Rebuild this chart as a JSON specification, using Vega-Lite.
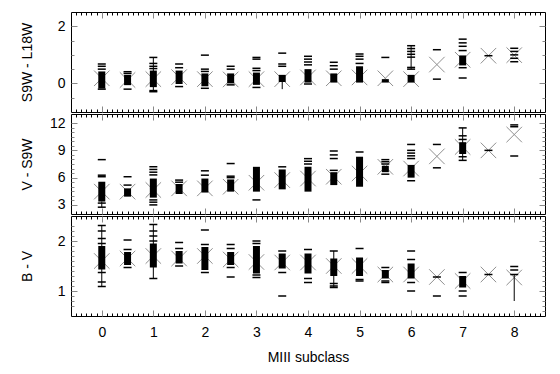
{
  "$schema": "https://vega.github.io/schema/vega-lite/v6.json",
  "padding": {"left": 19, "top": 11, "right": 12, "bottom": 4},
  "spacing": 0,
  "config": {
    "font": "Liberation Sans",
    "view": {"stroke": "black", "strokeWidth": 1},
    "axis": {"labelFont": "Liberation Sans", "labelFontSize": 14, "labelColor": "black", "titleFont": "Liberation Sans", "titleFontSize": 14, "titleFontWeight": "normal", "titleColor": "black", "domain": false, "grid": false, "labelOverlap": false, "labelFlush": false, "tickWidth": 1}
  },
  "datasets": {
    "stars": [
      {"p":"a","s":0,"v":0.68},{"p":"a","s":0,"v":0.6},{"p":"a","s":0,"v":0.5},{"p":"a","s":0,"v":-0.2},
      {"p":"a","s":0.5,"v":0.41},{"p":"a","s":0.5,"v":0.35},{"p":"a","s":0.5,"v":-0.2},
      {"p":"a","s":1,"v":0.91},{"p":"a","s":1,"v":0.7},{"p":"a","s":1,"v":0.6},{"p":"a","s":1,"v":0.52},{"p":"a","s":1,"v":-0.25},{"p":"a","s":1,"v":-0.29},
      {"p":"a","s":1.5,"v":0.68},{"p":"a","s":1.5,"v":0.55},{"p":"a","s":1.5,"v":-0.11},
      {"p":"a","s":2,"v":0.99},{"p":"a","s":2,"v":0.5},{"p":"a","s":2,"v":0.42},{"p":"a","s":2,"v":-0.17},
      {"p":"a","s":2.5,"v":0.6},{"p":"a","s":2.5,"v":0.5},{"p":"a","s":2.5,"v":-0.05},
      {"p":"a","s":3,"v":0.91},{"p":"a","s":3,"v":0.85},{"p":"a","s":3,"v":0.53},{"p":"a","s":3,"v":0.45},{"p":"a","s":3,"v":-0.14},
      {"p":"a","s":3.5,"v":1.06},{"p":"a","s":3.5,"v":0.68},{"p":"a","s":3.5,"v":0.6},
      {"p":"a","s":4,"v":0.95},{"p":"a","s":4,"v":0.85},{"p":"a","s":4,"v":0.75},{"p":"a","s":4,"v":0.65},{"p":"a","s":4,"v":-0.02},
      {"p":"a","s":4.5,"v":0.74},{"p":"a","s":4.5,"v":0.62},{"p":"a","s":4.5,"v":0.5},
      {"p":"a","s":5,"v":1.03},{"p":"a","s":5,"v":0.95},{"p":"a","s":5,"v":0.85},{"p":"a","s":5,"v":0.7},
      {"p":"a","s":5.5,"v":0.91},
      {"p":"a","s":6,"v":1.32},{"p":"a","s":6,"v":1.22},{"p":"a","s":6,"v":1.12},{"p":"a","s":6,"v":1.02},{"p":"a","s":6,"v":0.92},{"p":"a","s":6,"v":0.56},{"p":"a","s":6,"v":0.5},
      {"p":"a","s":6.5,"v":1.18},{"p":"a","s":6.5,"v":0.15},
      {"p":"a","s":7,"v":1.55},{"p":"a","s":7,"v":1.42},{"p":"a","s":7,"v":1.3},{"p":"a","s":7,"v":1.15},{"p":"a","s":7,"v":0.55},{"p":"a","s":7,"v":0.19},
      {"p":"a","s":7.5,"v":0.97},
      {"p":"a","s":8,"v":1.23},{"p":"a","s":8,"v":1.12},{"p":"a","s":8,"v":1.0},{"p":"a","s":8,"v":0.88},{"p":"a","s":8,"v":0.76},
      {"p":"b","s":0,"v":7.98},{"p":"b","s":0,"v":6.27},{"p":"b","s":0,"v":6.1},{"p":"b","s":0,"v":3.2},{"p":"b","s":0,"v":2.75},
      {"p":"b","s":0.5,"v":6.1},{"p":"b","s":0.5,"v":5.18},
      {"p":"b","s":1,"v":7.2},{"p":"b","s":1,"v":6.9},{"p":"b","s":1,"v":6.6},{"p":"b","s":1,"v":6.3},{"p":"b","s":1,"v":3.55},{"p":"b","s":1,"v":3.3},{"p":"b","s":1,"v":3.0},
      {"p":"b","s":1.5,"v":5.73},{"p":"b","s":1.5,"v":5.5},
      {"p":"b","s":2,"v":6.75},{"p":"b","s":2,"v":6.27},
      {"p":"b","s":2.5,"v":7.55},{"p":"b","s":2.5,"v":6.16},{"p":"b","s":2.5,"v":6.0},
      {"p":"b","s":3,"v":3.55},
      {"p":"b","s":3.5,"v":7.19},
      {"p":"b","s":4,"v":8.09},{"p":"b","s":4,"v":7.8},{"p":"b","s":4,"v":7.5},
      {"p":"b","s":4.5,"v":8.93},{"p":"b","s":4.5,"v":8.5},{"p":"b","s":4.5,"v":8.1},{"p":"b","s":4.5,"v":6.8},
      {"p":"b","s":5,"v":8.82},
      {"p":"b","s":5.5,"v":7.98},{"p":"b","s":5.5,"v":7.75},{"p":"b","s":5.5,"v":7.5},{"p":"b","s":5.5,"v":6.38},
      {"p":"b","s":6,"v":9.65},{"p":"b","s":6,"v":9.0},{"p":"b","s":6,"v":8.7},{"p":"b","s":6,"v":8.4},{"p":"b","s":6,"v":8.1},{"p":"b","s":6,"v":5.66},
      {"p":"b","s":6.5,"v":9.65},{"p":"b","s":6.5,"v":7.08},
      {"p":"b","s":7,"v":11.47},{"p":"b","s":7,"v":10.6},{"p":"b","s":7,"v":10.2},{"p":"b","s":7,"v":8.3},{"p":"b","s":7,"v":7.9},
      {"p":"b","s":7.5,"v":9.0},
      {"p":"b","s":8,"v":11.8},{"p":"b","s":8,"v":11.6},{"p":"b","s":8,"v":8.38},
      {"p":"c","s":0,"v":2.31},{"p":"c","s":0,"v":2.2},{"p":"c","s":0,"v":2.05},{"p":"c","s":0,"v":1.95},{"p":"c","s":0,"v":1.37},{"p":"c","s":0,"v":1.18},{"p":"c","s":0,"v":1.09},
      {"p":"c","s":0.5,"v":2.02},{"p":"c","s":0.5,"v":1.83},{"p":"c","s":0.5,"v":1.47},
      {"p":"c","s":1,"v":2.33},{"p":"c","s":1,"v":2.2},{"p":"c","s":1,"v":2.1},{"p":"c","s":1,"v":2.0},{"p":"c","s":1,"v":1.25},
      {"p":"c","s":1.5,"v":1.97},{"p":"c","s":1.5,"v":1.85},{"p":"c","s":1.5,"v":1.5},
      {"p":"c","s":2,"v":2.22},{"p":"c","s":2,"v":1.93},{"p":"c","s":2,"v":1.37},
      {"p":"c","s":2.5,"v":1.93},{"p":"c","s":2.5,"v":1.85},{"p":"c","s":2.5,"v":1.47},{"p":"c","s":2.5,"v":1.28},
      {"p":"c","s":3,"v":2.0},{"p":"c","s":3,"v":1.95},{"p":"c","s":3,"v":1.32},{"p":"c","s":3,"v":1.27},
      {"p":"c","s":3.5,"v":1.8},{"p":"c","s":3.5,"v":1.37},{"p":"c","s":3.5,"v":0.9},
      {"p":"c","s":4,"v":1.83},{"p":"c","s":4,"v":1.25},{"p":"c","s":4,"v":1.17},
      {"p":"c","s":4.5,"v":1.8},{"p":"c","s":4.5,"v":1.15},{"p":"c","s":4.5,"v":1.1},{"p":"c","s":4.5,"v":1.07},
      {"p":"c","s":5,"v":1.85},{"p":"c","s":5,"v":1.23},{"p":"c","s":5,"v":1.2},
      {"p":"c","s":5.5,"v":1.47},{"p":"c","s":5.5,"v":1.2},{"p":"c","s":5.5,"v":1.17},
      {"p":"c","s":6,"v":1.8},{"p":"c","s":6,"v":1.63},{"p":"c","s":6,"v":1.17},{"p":"c","s":6,"v":1.0},
      {"p":"c","s":6.5,"v":1.28},{"p":"c","s":6.5,"v":0.9},
      {"p":"c","s":7,"v":1.37},{"p":"c","s":7,"v":1.0},{"p":"c","s":7,"v":0.9},
      {"p":"c","s":7.5,"v":1.33},
      {"p":"c","s":8,"v":1.49},{"p":"c","s":8,"v":1.42},{"p":"c","s":8,"v":1.33}
    ],
    "blocks": [
      {"p":"a","s":0,"lo":-0.18,"hi":0.42},{"p":"a","s":0.5,"lo":-0.06,"hi":0.3},{"p":"a","s":1,"lo":-0.13,"hi":0.45},{"p":"a","s":1.5,"lo":-0.02,"hi":0.45},
      {"p":"a","s":2,"lo":-0.1,"hi":0.35},{"p":"a","s":2.5,"lo":0.0,"hi":0.35},{"p":"a","s":3,"lo":-0.05,"hi":0.38},{"p":"a","s":3.5,"lo":0.05,"hi":0.3},
      {"p":"a","s":4,"lo":0.03,"hi":0.5},{"p":"a","s":4.5,"lo":0.03,"hi":0.35},{"p":"a","s":5,"lo":0.03,"hi":0.6},{"p":"a","s":5.5,"lo":0.03,"hi":0.15},
      {"p":"a","s":6,"lo":0.03,"hi":0.3},{"p":"a","s":7,"lo":0.63,"hi":0.98},
      {"p":"b","s":0,"lo":3.37,"hi":5.55},{"p":"b","s":0.5,"lo":3.91,"hi":4.82},{"p":"b","s":1,"lo":3.8,"hi":5.9},{"p":"b","s":1.5,"lo":4.2,"hi":5.3},
      {"p":"b","s":2,"lo":4.36,"hi":5.9},{"p":"b","s":2.5,"lo":4.46,"hi":5.8},{"p":"b","s":3,"lo":4.46,"hi":7.19},{"p":"b","s":3.5,"lo":4.71,"hi":6.9},
      {"p":"b","s":4,"lo":4.46,"hi":7.2},{"p":"b","s":4.5,"lo":5.18,"hi":6.6},{"p":"b","s":5,"lo":5.0,"hi":8.3},{"p":"b","s":5.5,"lo":6.6,"hi":7.3},
      {"p":"b","s":6,"lo":6.0,"hi":7.4},{"p":"b","s":7,"lo":8.6,"hi":9.9},
      {"p":"c","s":0,"lo":1.43,"hi":1.9},{"p":"c","s":0.5,"lo":1.52,"hi":1.78},{"p":"c","s":1,"lo":1.47,"hi":1.95},{"p":"c","s":1.5,"lo":1.55,"hi":1.8},
      {"p":"c","s":2,"lo":1.42,"hi":1.88},{"p":"c","s":2.5,"lo":1.52,"hi":1.78},{"p":"c","s":3,"lo":1.35,"hi":1.9},{"p":"c","s":3.5,"lo":1.45,"hi":1.75},
      {"p":"c","s":4,"lo":1.35,"hi":1.75},{"p":"c","s":4.5,"lo":1.3,"hi":1.65},{"p":"c","s":5,"lo":1.3,"hi":1.67},{"p":"c","s":5.5,"lo":1.25,"hi":1.42},
      {"p":"c","s":6,"lo":1.25,"hi":1.55},{"p":"c","s":7,"lo":1.07,"hi":1.3}
    ],
    "means": [
      {"p":"a","s":0,"v":0.18},{"p":"a","s":0.5,"v":0.12},{"p":"a","s":1,"v":0.15},{"p":"a","s":1.5,"v":0.22},{"p":"a","s":2,"v":0.15},{"p":"a","s":2.5,"v":0.14},
      {"p":"a","s":3,"v":0.15},{"p":"a","s":3.5,"v":0.15},{"p":"a","s":4,"v":0.21},{"p":"a","s":4.5,"v":0.18},{"p":"a","s":5,"v":0.21},{"p":"a","s":5.5,"v":0.18},
      {"p":"a","s":6,"v":0.15},{"p":"a","s":6.5,"v":0.66},{"p":"a","s":7,"v":0.83},{"p":"a","s":7.5,"v":0.97},{"p":"a","s":8,"v":0.99},
      {"p":"b","s":0,"v":4.46},{"p":"b","s":0.5,"v":4.46},{"p":"b","s":1,"v":4.64},{"p":"b","s":1.5,"v":4.82},{"p":"b","s":2,"v":4.82},{"p":"b","s":2.5,"v":5.0},
      {"p":"b","s":3,"v":5.44},{"p":"b","s":3.5,"v":5.73},{"p":"b","s":4,"v":5.9},{"p":"b","s":4.5,"v":6.1},{"p":"b","s":5,"v":6.46},{"p":"b","s":5.5,"v":7.19},
      {"p":"b","s":6,"v":7.0},{"p":"b","s":6.5,"v":8.34},{"p":"b","s":7,"v":9.37},{"p":"b","s":7.5,"v":9.0},{"p":"b","s":8,"v":10.74},
      {"p":"c","s":0,"v":1.6},{"p":"c","s":0.5,"v":1.65},{"p":"c","s":1,"v":1.7},{"p":"c","s":1.5,"v":1.65},{"p":"c","s":2,"v":1.7},{"p":"c","s":2.5,"v":1.63},
      {"p":"c","s":3,"v":1.58},{"p":"c","s":3.5,"v":1.57},{"p":"c","s":4,"v":1.57},{"p":"c","s":4.5,"v":1.5},{"p":"c","s":5,"v":1.5},{"p":"c","s":5.5,"v":1.33},
      {"p":"c","s":6,"v":1.33},{"p":"c","s":6.5,"v":1.28},{"p":"c","s":7,"v":1.2},{"p":"c","s":7.5,"v":1.33},{"p":"c","s":8,"v":1.27}
    ],
    "errs": [
      {"p":"a","s":3.5,"lo":-0.2,"hi":0.05},{"p":"a","s":1,"lo":-0.29,"hi":0.91},{"p":"a","s":6,"lo":0.5,"hi":1.32},
      {"p":"b","s":0,"lo":2.75,"hi":3.37},{"p":"b","s":7,"lo":7.9,"hi":11.47},
      {"p":"c","s":8,"lo":0.8,"hi":1.33},{"p":"c","s":4.5,"lo":1.07,"hi":1.8},{"p":"c","s":1,"lo":1.25,"hi":2.33},{"p":"c","s":0,"lo":1.09,"hi":2.31}
    ]
  },
  "vconcat": [
    {
      "width": 474, "height": 100,
      "resolve": {"axis": {"x": "independent", "y": "independent"}},
      "layer": [
        {"data": {"name": "means"}, "transform": [{"filter": "datum.p == 'a'"}],
         "mark": {"type": "point", "shape": "M-1,-1L1,1M-1,1L1,-1", "size": 240, "filled": false, "stroke": "#8f8f8f", "strokeWidth": 1, "opacity": 1},
         "encoding": {
           "x": {"field": "s", "type": "quantitative", "scale": {"domain": [-0.5, 8.5], "nice": false, "zero": false}, "title": null,
                 "axis": {"orient": "bottom", "labels": false, "minExtent": 0, "maxExtent": 0, "values": [-0.5,-0.4,-0.3,-0.2,-0.1,0,0.1,0.2,0.3,0.4,0.5,0.6,0.7,0.8,0.9,1,1.1,1.2,1.3,1.4,1.5,1.6,1.7,1.8,1.9,2,2.1,2.2,2.3,2.4,2.5,2.6,2.7,2.8,2.9,3,3.1,3.2,3.3,3.4,3.5,3.6,3.7,3.8,3.9,4,4.1,4.2,4.3,4.4,4.5,4.6,4.7,4.8,4.9,5,5.1,5.2,5.3,5.4,5.5,5.6,5.7,5.8,5.9,6,6.1,6.2,6.3,6.4,6.5,6.6,6.7,6.8,6.9,7,7.1,7.2,7.3,7.4,7.5,7.6,7.7,7.8,7.9,8,8.1,8.2,8.3,8.4,8.5],
                          "tickSize": {"condition": {"test": "abs(datum.value - round(datum.value)) < 0.001", "value": -6}, "value": -3},
                          "tickColor": {"condition": {"test": "abs(datum.value - round(datum.value)) < 0.001", "value": "#888888"}, "value": "black"}}},
           "y": {"field": "v", "type": "quantitative", "scale": {"domain": [-1, 2.5], "nice": false, "zero": false}, "title": "S9W - L18W",
                 "axis": {"orient": "left", "values": [-0.5,0,0.5,1,1.5,2], "labelExpr": "datum.value == 0 || datum.value == 2 ? '' + datum.value : ''",
                          "labelFontSize": {"condition": {"test": "datum.value == 0 || datum.value == 2", "value": 14}, "value": 0},
                          "tickSize": {"condition": {"test": "datum.value == 0 || datum.value == 2", "value": -6}, "value": -3},
                          "minExtent": 30, "maxExtent": 30, "labelPadding": 12, "titlePadding": 7}}
         }},
        {"data": {"name": "blocks"}, "transform": [{"filter": "datum.p == 'a'"}],
         "mark": {"type": "bar", "width": 7, "color": "black"},
         "encoding": {
           "x": {"field": "s", "type": "quantitative", "title": null,
                 "axis": {"orient": "top", "labels": false, "minExtent": 0, "maxExtent": 0, "values": [-0.5,-0.4,-0.3,-0.2,-0.1,0,0.1,0.2,0.3,0.4,0.5,0.6,0.7,0.8,0.9,1,1.1,1.2,1.3,1.4,1.5,1.6,1.7,1.8,1.9,2,2.1,2.2,2.3,2.4,2.5,2.6,2.7,2.8,2.9,3,3.1,3.2,3.3,3.4,3.5,3.6,3.7,3.8,3.9,4,4.1,4.2,4.3,4.4,4.5,4.6,4.7,4.8,4.9,5,5.1,5.2,5.3,5.4,5.5,5.6,5.7,5.8,5.9,6,6.1,6.2,6.3,6.4,6.5,6.6,6.7,6.8,6.9,7,7.1,7.2,7.3,7.4,7.5,7.6,7.7,7.8,7.9,8,8.1,8.2,8.3,8.4,8.5],
                          "tickSize": {"condition": {"test": "abs(datum.value - round(datum.value)) < 0.001", "value": -6}, "value": -3},
                          "tickColor": {"condition": {"test": "abs(datum.value - round(datum.value)) < 0.001", "value": "#888888"}, "value": "black"}}},
           "y": {"field": "lo", "type": "quantitative", "title": null,
                 "axis": {"orient": "right", "labels": false, "minExtent": 0, "maxExtent": 0, "values": [-0.5,0,0.5,1,1.5,2],
                          "tickSize": {"condition": {"test": "datum.value == 0 || datum.value == 2", "value": -6}, "value": -3}}},
           "y2": {"field": "hi"}
         }},
        {"data": {"name": "errs"}, "transform": [{"filter": "datum.p == 'a'"}],
         "mark": {"type": "rule", "color": "black", "strokeWidth": 1},
         "encoding": {"x": {"field": "s", "type": "quantitative", "axis": null}, "y": {"field": "lo", "type": "quantitative", "axis": null}, "y2": {"field": "hi"}}},
        {"data": {"name": "stars"}, "transform": [{"filter": "datum.p == 'a'"}],
         "mark": {"type": "tick", "orient": "horizontal", "size": 8, "thickness": 1.5, "color": "black", "opacity": 1},
         "encoding": {"x": {"field": "s", "type": "quantitative", "axis": null}, "y": {"field": "v", "type": "quantitative", "axis": null}}}
      ]
    },
    {
      "width": 474, "height": 100,
      "resolve": {"axis": {"x": "independent", "y": "independent"}},
      "layer": [
        {"data": {"name": "means"}, "transform": [{"filter": "datum.p == 'b'"}],
         "mark": {"type": "point", "shape": "M-1,-1L1,1M-1,1L1,-1", "size": 240, "filled": false, "stroke": "#8f8f8f", "strokeWidth": 1, "opacity": 1},
         "encoding": {
           "x": {"field": "s", "type": "quantitative", "scale": {"domain": [-0.5, 8.5], "nice": false, "zero": false}, "title": null,
                 "axis": {"orient": "bottom", "labels": false, "minExtent": 0, "maxExtent": 0, "values": [-0.5,-0.4,-0.3,-0.2,-0.1,0,0.1,0.2,0.3,0.4,0.5,0.6,0.7,0.8,0.9,1,1.1,1.2,1.3,1.4,1.5,1.6,1.7,1.8,1.9,2,2.1,2.2,2.3,2.4,2.5,2.6,2.7,2.8,2.9,3,3.1,3.2,3.3,3.4,3.5,3.6,3.7,3.8,3.9,4,4.1,4.2,4.3,4.4,4.5,4.6,4.7,4.8,4.9,5,5.1,5.2,5.3,5.4,5.5,5.6,5.7,5.8,5.9,6,6.1,6.2,6.3,6.4,6.5,6.6,6.7,6.8,6.9,7,7.1,7.2,7.3,7.4,7.5,7.6,7.7,7.8,7.9,8,8.1,8.2,8.3,8.4,8.5],
                          "tickSize": {"condition": {"test": "abs(datum.value - round(datum.value)) < 0.001", "value": -6}, "value": -3},
                          "tickColor": {"condition": {"test": "abs(datum.value - round(datum.value)) < 0.001", "value": "#888888"}, "value": "black"}}},
           "y": {"field": "v", "type": "quantitative", "scale": {"domain": [2, 13], "nice": false, "zero": false}, "title": "V - S9W",
                 "axis": {"orient": "left", "values": [3,3.5,4,4.5,5,5.5,6,6.5,7,7.5,8,8.5,9,9.5,10,10.5,11,11.5,12], "labelExpr": "datum.value % 3 == 0 ? '' + datum.value : ''",
                          "labelFontSize": {"condition": {"test": "datum.value % 3 == 0", "value": 14}, "value": 0},
                          "tickSize": {"condition": {"test": "datum.value % 3 == 0", "value": -6}, "value": -3},
                          "minExtent": 30, "maxExtent": 30, "labelPadding": 12, "titlePadding": 7}}
         }},
        {"data": {"name": "blocks"}, "transform": [{"filter": "datum.p == 'b'"}],
         "mark": {"type": "bar", "width": 7, "color": "black"},
         "encoding": {
           "x": {"field": "s", "type": "quantitative", "title": null,
                 "axis": {"orient": "top", "labels": false, "minExtent": 0, "maxExtent": 0, "values": [-0.5,-0.4,-0.3,-0.2,-0.1,0,0.1,0.2,0.3,0.4,0.5,0.6,0.7,0.8,0.9,1,1.1,1.2,1.3,1.4,1.5,1.6,1.7,1.8,1.9,2,2.1,2.2,2.3,2.4,2.5,2.6,2.7,2.8,2.9,3,3.1,3.2,3.3,3.4,3.5,3.6,3.7,3.8,3.9,4,4.1,4.2,4.3,4.4,4.5,4.6,4.7,4.8,4.9,5,5.1,5.2,5.3,5.4,5.5,5.6,5.7,5.8,5.9,6,6.1,6.2,6.3,6.4,6.5,6.6,6.7,6.8,6.9,7,7.1,7.2,7.3,7.4,7.5,7.6,7.7,7.8,7.9,8,8.1,8.2,8.3,8.4,8.5],
                          "tickSize": {"condition": {"test": "abs(datum.value - round(datum.value)) < 0.001", "value": -6}, "value": -3},
                          "tickColor": {"condition": {"test": "abs(datum.value - round(datum.value)) < 0.001", "value": "#888888"}, "value": "black"}}},
           "y": {"field": "lo", "type": "quantitative", "title": null,
                 "axis": {"orient": "right", "labels": false, "minExtent": 0, "maxExtent": 0, "values": [3,3.5,4,4.5,5,5.5,6,6.5,7,7.5,8,8.5,9,9.5,10,10.5,11,11.5,12],
                          "tickSize": {"condition": {"test": "datum.value % 3 == 0", "value": -6}, "value": -3}}},
           "y2": {"field": "hi"}
         }},
        {"data": {"name": "errs"}, "transform": [{"filter": "datum.p == 'b'"}],
         "mark": {"type": "rule", "color": "black", "strokeWidth": 1},
         "encoding": {"x": {"field": "s", "type": "quantitative", "axis": null}, "y": {"field": "lo", "type": "quantitative", "axis": null}, "y2": {"field": "hi"}}},
        {"data": {"name": "stars"}, "transform": [{"filter": "datum.p == 'b'"}],
         "mark": {"type": "tick", "orient": "horizontal", "size": 8, "thickness": 1.5, "color": "black", "opacity": 1},
         "encoding": {"x": {"field": "s", "type": "quantitative", "axis": null}, "y": {"field": "v", "type": "quantitative", "axis": null}}}
      ]
    },
    {
      "width": 474, "height": 100,
      "resolve": {"axis": {"x": "independent", "y": "independent"}},
      "layer": [
        {"data": {"name": "means"}, "transform": [{"filter": "datum.p == 'c'"}],
         "mark": {"type": "point", "shape": "M-1,-1L1,1M-1,1L1,-1", "size": 240, "filled": false, "stroke": "#8f8f8f", "strokeWidth": 1, "opacity": 1},
         "encoding": {
           "x": {"field": "s", "type": "quantitative", "scale": {"domain": [-0.5, 8.5], "nice": false, "zero": false}, "title": "MIII subclass",
                 "axis": {"orient": "bottom", "values": [-0.5,-0.4,-0.3,-0.2,-0.1,0,0.1,0.2,0.3,0.4,0.5,0.6,0.7,0.8,0.9,1,1.1,1.2,1.3,1.4,1.5,1.6,1.7,1.8,1.9,2,2.1,2.2,2.3,2.4,2.5,2.6,2.7,2.8,2.9,3,3.1,3.2,3.3,3.4,3.5,3.6,3.7,3.8,3.9,4,4.1,4.2,4.3,4.4,4.5,4.6,4.7,4.8,4.9,5,5.1,5.2,5.3,5.4,5.5,5.6,5.7,5.8,5.9,6,6.1,6.2,6.3,6.4,6.5,6.6,6.7,6.8,6.9,7,7.1,7.2,7.3,7.4,7.5,7.6,7.7,7.8,7.9,8,8.1,8.2,8.3,8.4,8.5],
                          "labelExpr": "abs(datum.value - round(datum.value)) < 0.001 ? '' + round(datum.value) : ''",
                          "tickSize": {"condition": {"test": "abs(datum.value - round(datum.value)) < 0.001", "value": -6}, "value": -3},
                          "tickColor": {"condition": {"test": "abs(datum.value - round(datum.value)) < 0.001", "value": "#888888"}, "value": "black"},
                          "labelPadding": 15, "titlePadding": 8}},
           "y": {"field": "v", "type": "quantitative", "scale": {"domain": [0.5, 2.5], "nice": false, "zero": false}, "title": "B - V",
                 "axis": {"orient": "left", "values": [0.7,0.8,0.9,1,1.1,1.2,1.3,1.4,1.5,1.6,1.7,1.8,1.9,2,2.1,2.2,2.3], "labelExpr": "datum.value == 1 || datum.value == 2 ? '' + datum.value : ''",
                          "labelFontSize": {"condition": {"test": "datum.value == 1 || datum.value == 2", "value": 14}, "value": 0},
                          "tickSize": {"condition": {"test": "datum.value == 1 || datum.value == 2", "value": -6}, "value": -3},
                          "minExtent": 30, "maxExtent": 30, "labelPadding": 12, "titlePadding": 7}}
         }},
        {"data": {"name": "blocks"}, "transform": [{"filter": "datum.p == 'c'"}],
         "mark": {"type": "bar", "width": 7, "color": "black"},
         "encoding": {
           "x": {"field": "s", "type": "quantitative", "title": null,
                 "axis": {"orient": "top", "labels": false, "minExtent": 0, "maxExtent": 0, "values": [-0.5,-0.4,-0.3,-0.2,-0.1,0,0.1,0.2,0.3,0.4,0.5,0.6,0.7,0.8,0.9,1,1.1,1.2,1.3,1.4,1.5,1.6,1.7,1.8,1.9,2,2.1,2.2,2.3,2.4,2.5,2.6,2.7,2.8,2.9,3,3.1,3.2,3.3,3.4,3.5,3.6,3.7,3.8,3.9,4,4.1,4.2,4.3,4.4,4.5,4.6,4.7,4.8,4.9,5,5.1,5.2,5.3,5.4,5.5,5.6,5.7,5.8,5.9,6,6.1,6.2,6.3,6.4,6.5,6.6,6.7,6.8,6.9,7,7.1,7.2,7.3,7.4,7.5,7.6,7.7,7.8,7.9,8,8.1,8.2,8.3,8.4,8.5],
                          "tickSize": {"condition": {"test": "abs(datum.value - round(datum.value)) < 0.001", "value": -6}, "value": -3},
                          "tickColor": {"condition": {"test": "abs(datum.value - round(datum.value)) < 0.001", "value": "#888888"}, "value": "black"}}},
           "y": {"field": "lo", "type": "quantitative", "title": null,
                 "axis": {"orient": "right", "labels": false, "minExtent": 0, "maxExtent": 0, "values": [0.6,0.7,0.8,0.9,1,1.1,1.2,1.3,1.4,1.5,1.6,1.7,1.8,1.9,2,2.1,2.2,2.3,2.4],
                          "tickSize": {"condition": {"test": "datum.value == 1 || datum.value == 2", "value": -6}, "value": -3}}},
           "y2": {"field": "hi"}
         }},
        {"data": {"name": "errs"}, "transform": [{"filter": "datum.p == 'c'"}],
         "mark": {"type": "rule", "color": "black", "strokeWidth": 1},
         "encoding": {"x": {"field": "s", "type": "quantitative", "axis": null}, "y": {"field": "lo", "type": "quantitative", "axis": null}, "y2": {"field": "hi"}}},
        {"data": {"name": "stars"}, "transform": [{"filter": "datum.p == 'c'"}],
         "mark": {"type": "tick", "orient": "horizontal", "size": 8, "thickness": 1.5, "color": "black", "opacity": 1},
         "encoding": {"x": {"field": "s", "type": "quantitative", "axis": null}, "y": {"field": "v", "type": "quantitative", "axis": null}}}
      ]
    }
  ]
}
